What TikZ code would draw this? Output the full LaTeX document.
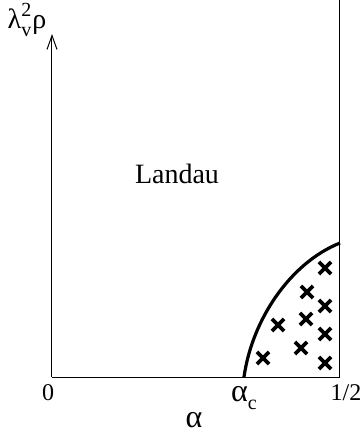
\documentclass[tikz,border=0pt]{standalone}
\usepackage{fontspec}
\setmainfont{Liberation Serif}
\usetikzlibrary{shapes.misc,arrows.meta}
\tikzset{xmark/.style={cross out,draw,line width=1.9pt,minimum size=4.2pt,inner sep=0pt}}
\newcommand{\smallsc}{\fontsize{10}{12}\selectfont}
\begin{document}
\begin{tikzpicture}[x=.5pt,y=-.5pt,line width=.5pt,
  every node/.style={font=\fontsize{14}{16}\selectfont,inner sep=1pt}]
  \path[use as bounding box] (0,0) rectangle (361,446);
  \coordinate (O) at (52,377);
  \coordinate (Y) at (52,34);
  \coordinate (H) at (340,377);
  \coordinate (T) at (340,0);
  \coordinate (C) at (244,377);
  \coordinate (E) at (340,243);
  \draw[-{Straight Barb[length=7pt,width=5pt]}] (O)--(Y);
  \draw (O)--(H)--(T);
  \draw[line width=1.6pt] (C) .. controls (252,320) and (290,263) .. (E);
  \node[xmark] (x1) at (325,268) {};
  \node[xmark] (x2) at (307,292) {};
  \node[xmark] (x3) at (325,306) {};
  \node[xmark] (x4) at (278,325) {};
  \node[xmark] (x5) at (306,319) {};
  \node[xmark] (x6) at (325,334) {};
  \node[xmark] (x7) at (263,358) {};
  \node[xmark] (x8) at (301,348) {};
  \node[xmark] (x9) at (325,363) {};
  \node (land) at (177,174) {Landau};
  \node (ylab) at (27,20) {$\mbox{λ}^{\mbox{\smallsc 2}}_{\mbox{\smallsc v}}\mbox{ρ}$};
  \node (zero) at (48,393) {\fontsize{12}{14}\selectfont 0};
  \node (ac) at (244,398) {\fontsize{16}{18}\selectfont α\raisebox{-.5ex}{\smallsc c}};
  \node (half) at (346,393) {\fontsize{12}{14}\selectfont 1/2};
  \node (alab) at (194,420) {\fontsize{16}{18}\selectfont α};
\end{tikzpicture}
\end{document}
